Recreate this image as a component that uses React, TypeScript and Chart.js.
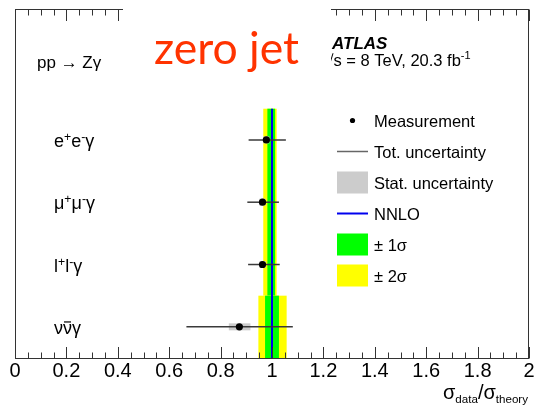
import React, { useEffect, useRef } from 'react';
import { Chart, registerables } from 'chart.js';

Chart.register(...registerables);

// ---- data ----------------------------------------------------------------
type Seg = { t: string; k?: 'sup' | 'sub' | 'bar' };

// channel labels, drawn top to bottom
const channelLabels: Seg[][] = [
  [{ t: 'e' }, { t: '+', k: 'sup' }, { t: 'e' }, { t: '-', k: 'sup' }, { t: 'γ' }],
  [{ t: 'μ' }, { t: '+', k: 'sup' }, { t: 'μ' }, { t: '-', k: 'sup' }, { t: 'γ' }],
  [{ t: 'l' }, { t: '+', k: 'sup' }, { t: 'l' }, { t: '-', k: 'sup' }, { t: 'γ' }],
  [{ t: 'ν' }, { t: 'ν', k: 'bar' }, { t: 'γ' }],
];
const rowY = [3.5, 2.5, 1.5, 0.5];

// measured ratio sigma_data / sigma_theory
const measured = [0.978, 0.963, 0.963, 0.873];
const totLo = [0.909, 0.904, 0.907, 0.667];
const totHi = [1.054, 1.027, 1.030, 1.081];
const statLo = [0.966, 0.951, 0.951, 0.832];
const statHi = [0.990, 0.975, 0.975, 0.916];

// theory bands (charged-lepton channels share one band, neutrino channel its own)
const bandYFrom = [1, 0];
const bandYTo = [4, 1];
const oneSigmaLo = [0.982, 0.973];
const oneSigmaHi = [1.012, 1.027];
const twoSigmaLo = [0.966, 0.947];
const twoSigmaHi = [1.018, 1.057];
const nnlo = 1.0;
const nnloYFrom = 0;
const nnloYTo = 4;

const xTickValues = [0, 0.2, 0.4, 0.6, 0.8, 1, 1.2, 1.4, 1.6, 1.8, 2];
const xTickLabels = ['0', '0.2', '0.4', '0.6', '0.8', '1', '1.2', '1.4', '1.6', '1.8', '2'];

const legendLabels = [
  'Measurement',
  'Tot. uncertainty',
  'Stat. uncertainty',
  'NNLO',
  '± 1σ',
  '± 2σ',
];

// ---- styles --------------------------------------------------------------
const SANS = "'Liberation Sans', Arial, Helvetica, sans-serif";
const YELLOW = '#ffff00';
const GREEN = '#00ff00';
const BLUE = '#0000ee';
const STAT_GRAY = '#cccccc';
const ERR_COLOR = '#3a3a3a';
const FRAME = '#333333';

function drawRich(
  ctx: CanvasRenderingContext2D,
  segs: Seg[],
  x: number,
  y: number,
  size: number,
  align: 'left' | 'right' = 'left',
  smallScale = 0.62,
) {
  const small = size * smallScale;
  const fontFor = (s: Seg) => `${s.k === 'sup' || s.k === 'sub' ? small : size}px ${SANS}`;
  const widths = segs.map((s) => {
    ctx.font = fontFor(s);
    return ctx.measureText(s.t).width;
  });
  const total = widths.reduce((a, b) => a + b, 0);
  let cx = align === 'right' ? x - total : x;
  ctx.textAlign = 'left';
  ctx.textBaseline = 'alphabetic';
  segs.forEach((s, i) => {
    ctx.font = fontFor(s);
    const dy = s.k === 'sup' ? -size * 0.32 : s.k === 'sub' ? size * 0.22 : 0;
    ctx.fillText(s.t, cx, y + dy);
    if (s.k === 'bar') {
      ctx.save();
      ctx.strokeStyle = ctx.fillStyle as string;
      ctx.lineWidth = 1.2;
      ctx.beginPath();
      const by = y - size * 0.66;
      ctx.moveTo(cx + 1, by);
      ctx.lineTo(cx + widths[i] - 1, by);
      ctx.stroke();
      ctx.restore();
    }
    cx += widths[i];
  });
}

const zgPlugin = {
  id: 'zgPlot',
  beforeDatasetsDraw(chart: any) {
    const { ctx, scales } = chart;
    const xs = scales.x;
    const ys = scales.y;
    ctx.save();
    // theory bands
    for (let i = 0; i < bandYFrom.length; i++) {
      const yTop = ys.getPixelForValue(bandYTo[i]);
      const yBot = ys.getPixelForValue(bandYFrom[i]);
      const x2a = xs.getPixelForValue(twoSigmaLo[i]);
      const x2b = xs.getPixelForValue(twoSigmaHi[i]);
      ctx.fillStyle = YELLOW;
      ctx.fillRect(x2a, yTop, x2b - x2a, yBot - yTop);
      const x1a = xs.getPixelForValue(oneSigmaLo[i]);
      const x1b = xs.getPixelForValue(oneSigmaHi[i]);
      ctx.fillStyle = GREEN;
      ctx.fillRect(x1a, yTop, x1b - x1a, yBot - yTop);
    }
    // NNLO prediction
    const xn = xs.getPixelForValue(nnlo);
    ctx.strokeStyle = BLUE;
    ctx.lineWidth = 2;
    ctx.beginPath();
    ctx.moveTo(xn, ys.getPixelForValue(nnloYFrom));
    ctx.lineTo(xn, ys.getPixelForValue(nnloYTo));
    ctx.stroke();

    // statistical boxes and total uncertainty bars
    for (let i = 0; i < measured.length; i++) {
      const py = ys.getPixelForValue(rowY[i]);
      const sa = xs.getPixelForValue(statLo[i]);
      const sb = xs.getPixelForValue(statHi[i]);
      ctx.fillStyle = STAT_GRAY;
      ctx.fillRect(sa, py - 3.5, sb - sa, 7);
      ctx.strokeStyle = ERR_COLOR;
      ctx.lineWidth = 1.5;
      ctx.beginPath();
      ctx.moveTo(xs.getPixelForValue(totLo[i]), py);
      ctx.lineTo(xs.getPixelForValue(totHi[i]), py);
      ctx.stroke();
    }
    ctx.restore();
  },
  afterDraw(chart: any) {
    const { ctx, chartArea, scales } = chart;
    const xs = scales.x;
    const ys = scales.y;
    const L = Math.round(chartArea.left) + 0.5;
    const R = Math.round(chartArea.right) - 0.5;
    const T = Math.round(chartArea.top) + 0.5;
    const B = Math.round(chartArea.bottom) + 0.5;
    ctx.save();

    // frame
    ctx.strokeStyle = FRAME;
    ctx.lineWidth = 1;
    ctx.strokeRect(L, T, R - L, B - T);

    // tick marks on bottom and top edges
    ctx.beginPath();
    for (let k = 0; k <= 40; k++) {
      const v = k * 0.05;
      const px = Math.round(xs.getPixelForValue(v)) + 0.5;
      const len = k % 4 === 0 ? 11.5 : 6;
      ctx.moveTo(px, B);
      ctx.lineTo(px, B - len);
      ctx.moveTo(px, T);
      ctx.lineTo(px, T + len);
    }
    ctx.stroke();

    // channel labels
    ctx.fillStyle = '#000';
    channelLabels.forEach((segs, i) => {
      drawRich(ctx, segs, 54, ys.getPixelForValue(rowY[i]) + 7, 18, 'left', 0.68);
    });

    // process label
    ctx.font = `17px ${SANS}`;
    ctx.textAlign = 'left';
    ctx.textBaseline = 'alphabetic';
    ctx.fillText('pp → Zγ', 37, 68);

    // axis title
    drawRich(
      ctx,
      [{ t: 'σ' }, { t: 'data', k: 'sub' }, { t: '/' }, { t: 'σ' }, { t: 'theory', k: 'sub' }],
      528,
      399,
      20,
      'right',
      0.58,
    );

    // experiment label
    ctx.font = `bold italic 17px ${SANS}`;
    ctx.fillText('ATLAS', 332, 49);
    ctx.font = `16.5px ${SANS}`;
    const rootW = ctx.measureText('√').width;
    ctx.fillText('√', 333.5 - rootW, 65.5);
    const energy = 's = 8 TeV, 20.3 fb';
    ctx.fillText(energy, 333.5, 65.5);
    const ew = ctx.measureText(energy).width;
    ctx.font = `11px ${SANS}`;
    ctx.fillText('-1', 333.5 + ew, 59);

    // title panel
    ctx.fillStyle = '#ffffff';
    ctx.fillRect(123, 0, 208, 104);
    ctx.fillStyle = '#ff3300';
    ctx.font = `44.5px Lato, 'Open Sans', sans-serif`;
    ctx.fillText('zero jet', 154, 64);

    // legend
    const legTop = 120.5;
    const legStep = 31;
    const sx0 = 337;
    const sx1 = 368;
    legendLabels.forEach((label, i) => {
      const cy = legTop + i * legStep;
      if (i === 0) {
        ctx.fillStyle = '#000';
        ctx.beginPath();
        ctx.arc((sx0 + sx1) / 2, cy, 2.6, 0, Math.PI * 2);
        ctx.fill();
      } else if (i === 1) {
        ctx.strokeStyle = '#666666';
        ctx.lineWidth = 1.5;
        ctx.beginPath();
        ctx.moveTo(sx0, cy);
        ctx.lineTo(sx1, cy);
        ctx.stroke();
      } else if (i === 3) {
        ctx.strokeStyle = BLUE;
        ctx.lineWidth = 2;
        ctx.beginPath();
        ctx.moveTo(sx0, cy);
        ctx.lineTo(sx1, cy);
        ctx.stroke();
      } else {
        ctx.fillStyle = i === 2 ? STAT_GRAY : i === 4 ? GREEN : YELLOW;
        ctx.fillRect(sx0, cy - 11, sx1 - sx0, 22);
      }
      ctx.fillStyle = '#000';
      ctx.font = `16.5px ${SANS}`;
      ctx.textAlign = 'left';
      ctx.textBaseline = 'alphabetic';
      ctx.fillText(label, 374, cy + 6);
    });

    ctx.restore();
  },
};

export default function App() {
  const canvasRef = useRef<HTMLCanvasElement | null>(null);

  useEffect(() => {
    const canvas = canvasRef.current;
    if (!canvas) return;
    const chart = new Chart(canvas, {
      type: 'scatter',
      data: {
        datasets: [
          {
            label: 'Measurement',
            data: measured.map((v, i) => ({ x: v, y: rowY[i] })),
            pointRadius: 3.6,
            pointHoverRadius: 3.6,
            backgroundColor: '#000',
            borderWidth: 0,
          },
        ],
      },
      options: {
        animation: false,
        responsive: false,
        devicePixelRatio: 1,
        events: [],
        layout: { padding: { top: 9, right: 15, left: 15, bottom: 0 } },
        plugins: { legend: { display: false }, tooltip: { enabled: false } },
        scales: {
          x: {
            type: 'linear',
            min: 0,
            max: 2,
            grid: { display: false, drawTicks: false },
            border: { display: false },
            afterBuildTicks: (scale: any) => {
              scale.ticks = xTickValues.map((v) => ({ value: v }));
            },
            afterFit: (scale: any) => {
              scale.height = 48;
            },
            ticks: {
              autoSkip: false,
              maxRotation: 0,
              padding: 1,
              color: '#000',
              font: { family: SANS, size: 20 },
              callback: (_v: any, idx: number) => xTickLabels[idx],
            },
          },
          y: {
            type: 'linear',
            min: 0,
            max: 5.6,
            display: false,
          },
        },
      },
      plugins: [zgPlugin],
    } as any);
    return () => chart.destroy();
  }, []);

  return (
    <div style={{ position: 'absolute', left: 0, top: 0, width: 544, height: 406, background: '#fff' }}>
      <canvas ref={canvasRef} width={544} height={406} style={{ display: 'block' }} />
    </div>
  );
}
